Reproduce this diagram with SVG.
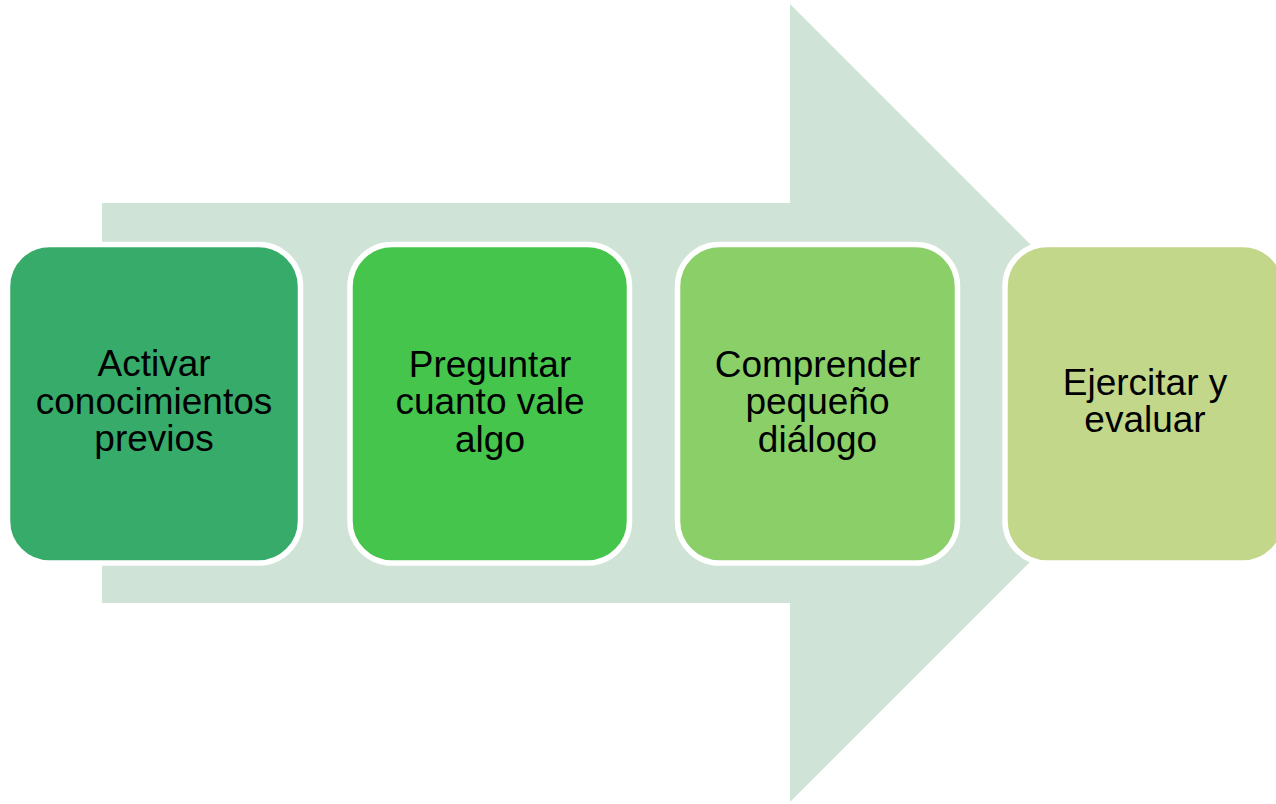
<svg xmlns="http://www.w3.org/2000/svg" width="1276" height="804" viewBox="0 0 1276 804">
<style>
.box{stroke:#FFFFFF;stroke-width:5.5}
.t{font-family:"Liberation Sans",Arial,sans-serif;font-size:37px;fill:#000000;text-anchor:middle}
</style>
<rect width="1276" height="804" fill="#FFFFFF"/>
<g id="connectors">
<polygon id="arrow" points="102,203 790,203 790,4 1189,403 790,802 790,603 102,603" fill="#CFE3D6"/>
</g>
<g id="node1">
<rect class="box" x="7.5" y="244.5" width="293" height="318.5" rx="42" fill="#37AC6A"/>
<text class="t" x="154" y="376">Activar</text>
<text class="t" x="154" y="413.5">conocimientos</text>
<text class="t" x="154" y="451">previos</text>
</g>
<g id="node2">
<rect class="box" x="350" y="244.5" width="279.5" height="318.5" rx="42" fill="#46C54C"/>
<text class="t" x="490" y="376.5">Preguntar</text>
<text class="t" x="490" y="414">cuanto vale</text>
<text class="t" x="490" y="451.5">algo</text>
</g>
<g id="node3">
<rect class="box" x="677.5" y="244.5" width="280" height="318.5" rx="42" fill="#8BCF69"/>
<text class="t" x="817.5" y="376.5">Comprender</text>
<text class="t" x="817.5" y="414">pequeño</text>
<text class="t" x="817.5" y="451.5">diálogo</text>
</g>
<g id="node4">
<rect class="box" x="1005" y="244.5" width="280" height="318.5" rx="42" fill="#C2D789"/>
<text class="t" x="1145" y="395">Ejercitar y</text>
<text class="t" x="1145" y="432">evaluar</text>
</g>
</svg>
